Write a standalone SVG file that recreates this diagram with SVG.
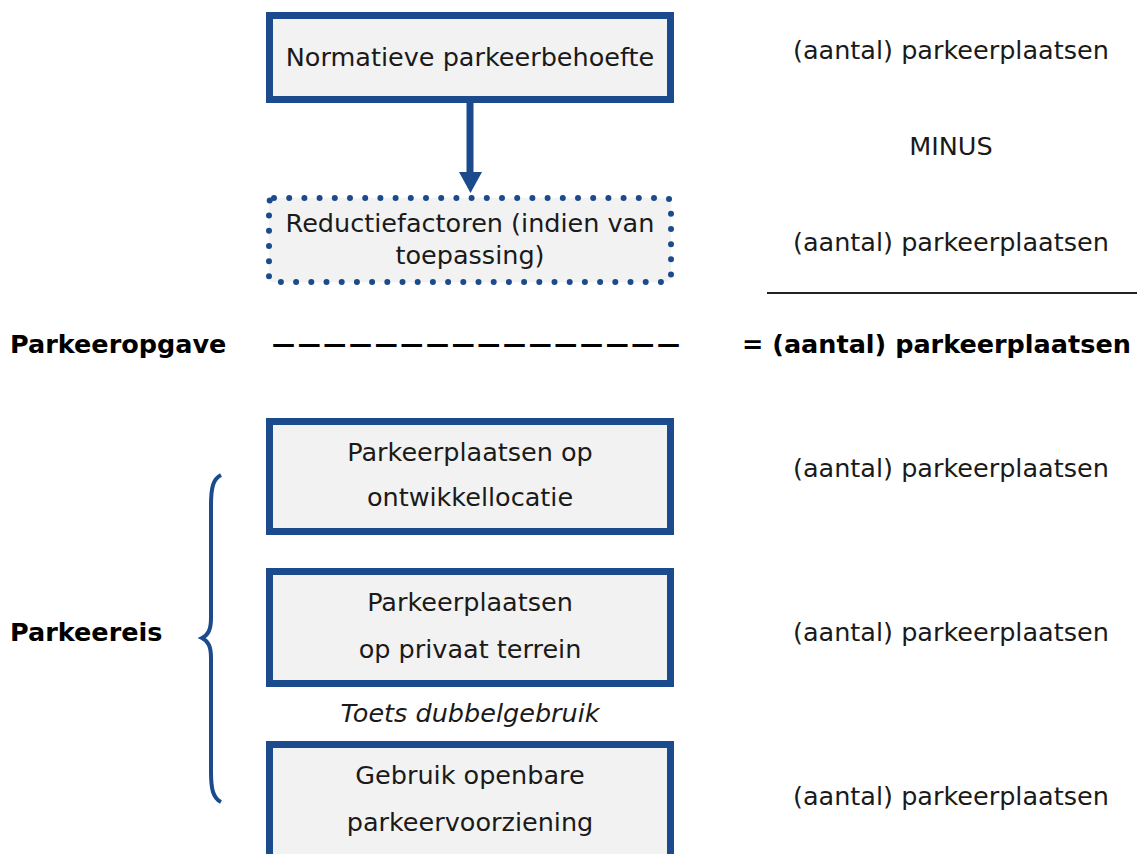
<svg xmlns="http://www.w3.org/2000/svg" width="1137" height="854" viewBox="0 0 1137 854">
<defs>
<style>
.box{fill:#f2f2f2;stroke:#1b4b8c;stroke-width:7}
.dot{fill:#f2f2f2;stroke:#1b4b8c;stroke-width:6;stroke-dasharray:0 15.2;stroke-linecap:round}
.t{font-family:"DejaVu Sans",Verdana,sans-serif;font-size:25.5px;fill:#1a1a1a}
.c{text-anchor:middle}
.b{font-weight:bold;fill:#000}
.i{font-style:italic}
</style>
</defs>
<rect width="1137" height="854" fill="#fff"/>
<g id="connectors">
<line x1="470" y1="103" x2="470" y2="174" stroke="#1b4b8c" stroke-width="7"/>
<polygon points="459,172 482,172 470.5,193" fill="#1b4b8c"/>
<path d="M221,475 C213,479 211,488 211,505 L211,618 C211,630 208,635 202,638 C208,641 211,646 211,658 L211,772 C211,789 213,798 221,802" fill="none" stroke="#1b4b8c" stroke-width="4"/>
<line x1="767" y1="293" x2="1137" y2="293" stroke="#222" stroke-width="2"/>
</g>
<g id="n1">
<rect class="box" x="269.5" y="15.5" width="401" height="84"/>
<text class="t c" x="470" y="66">Normatieve parkeerbehoefte</text>
</g>
<g id="n2">
<rect class="dot" x="269" y="198" width="402" height="84" rx="5"/>
<text class="t c" x="470" y="232">Reductiefactoren (indien van</text>
<text class="t c" x="470" y="264">toepassing)</text>
</g>
<g id="n3">
<rect class="box" x="269.5" y="421.5" width="401" height="110"/>
<text class="t c" x="470" y="461">Parkeerplaatsen op</text>
<text class="t c" x="470" y="506">ontwikkellocatie</text>
</g>
<g id="n4">
<rect class="box" x="269.5" y="571.5" width="401" height="112"/>
<text class="t c" x="470" y="611">Parkeerplaatsen</text>
<text class="t c" x="470" y="658">op privaat terrein</text>
</g>
<g id="n5">
<rect class="box" x="269.5" y="744.5" width="401" height="120"/>
<text class="t c" x="470" y="784">Gebruik openbare</text>
<text class="t c" x="470" y="831">parkeervoorziening</text>
</g>
<g id="labels">
<text class="t i c" x="470" y="722">Toets dubbelgebruik</text>
<text class="t" x="793" y="59">(aantal) parkeerplaatsen</text>
<text class="t c" x="951" y="155">MINUS</text>
<text class="t" x="793" y="251">(aantal) parkeerplaatsen</text>
<text class="t b" x="10" y="353">Parkeeropgave</text>
<text class="t b" x="272" y="352" style="font-size:23px" textLength="408" lengthAdjust="spacing">————————————————</text>
<text class="t b" x="742" y="353">= (aantal) parkeerplaatsen</text>
<text class="t" x="793" y="477">(aantal) parkeerplaatsen</text>
<text class="t b" x="10" y="641">Parkeereis</text>
<text class="t" x="793" y="641">(aantal) parkeerplaatsen</text>
<text class="t" x="793" y="805">(aantal) parkeerplaatsen</text>
</g>
</svg>
